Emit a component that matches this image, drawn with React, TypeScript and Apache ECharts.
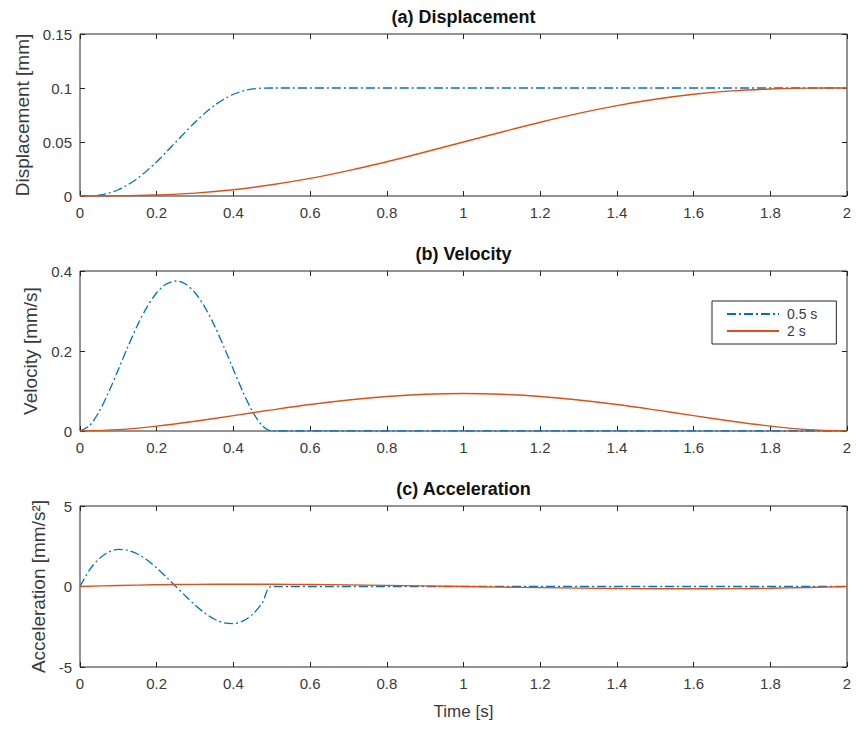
import React, { useEffect, useRef } from "react";
import * as echarts from "echarts";

// Time samples
const blueTime = [0, 0.025, 0.05, 0.075, 0.1, 0.125, 0.15, 0.175, 0.2, 0.225, 0.25, 0.275, 0.3, 0.325, 0.35, 0.375, 0.4, 0.425, 0.45, 0.475, 0.5, 2.0];
const redTime = [0, 0.1, 0.2, 0.3, 0.4, 0.5, 0.6, 0.7, 0.8, 0.9, 1.0, 1.1, 1.2, 1.3, 1.4, 1.5, 1.6, 1.7, 1.8, 1.9, 2.0];

// 0.5 s profile
const blueDisp = [0, 0.0001, 0.0009, 0.0027, 0.0058, 0.0104, 0.0163, 0.0235, 0.0317, 0.0407, 0.05, 0.0593, 0.0683, 0.0765, 0.0837, 0.0896, 0.0942, 0.0973, 0.0991, 0.0999, 0.1, 0.1];
const blueVel = [0, 0.0135, 0.0486, 0.0975, 0.1536, 0.2109, 0.2646, 0.3105, 0.3456, 0.3675, 0.375, 0.3675, 0.3456, 0.3105, 0.2646, 0.2109, 0.1536, 0.0975, 0.0486, 0.0135, 0, 0];
const blueAcc = [0, 1.03, 1.73, 2.14, 2.3, 2.25, 2.02, 1.64, 1.15, 0.59, 0, -0.59, -1.15, -1.64, -2.02, -2.25, -2.3, -2.14, -1.73, -1.03, 0, 0];

// 2 s profile
const redDisp = [0, 0.0001, 0.0009, 0.0027, 0.0058, 0.0104, 0.0163, 0.0235, 0.0317, 0.0407, 0.05, 0.0593, 0.0683, 0.0765, 0.0837, 0.0896, 0.0942, 0.0973, 0.0991, 0.0999, 0.1];
const redVel = [0, 0.0034, 0.0122, 0.0244, 0.0384, 0.0527, 0.0662, 0.0776, 0.0864, 0.0919, 0.0938, 0.0919, 0.0864, 0.0776, 0.0662, 0.0527, 0.0384, 0.0244, 0.0122, 0.0034, 0];
const redAcc = [0, 0.064, 0.108, 0.134, 0.144, 0.141, 0.126, 0.102, 0.072, 0.037, 0, -0.037, -0.072, -0.102, -0.126, -0.141, -0.144, -0.134, -0.108, -0.064, 0];

const titles = ["(a) Displacement", "(b) Velocity", "(c) Acceleration"];
const yNames = ["Displacement [mm]", "Velocity [mm/s]", "Acceleration [mm/s\u00B2]"];
const yRanges = [
  { min: 0, max: 0.15, interval: 0.05 },
  { min: 0, max: 0.4, interval: 0.2 },
  { min: -5, max: 5, interval: 5 },
];
const seriesNames = ["0.5 s", "2 s"];

const FONT = '"Liberation Sans", Arial, Helvetica, sans-serif';
const BLUE = "#0072BD";
const RED = "#D95319";
const AXC = "#262626";
const TXT = "#3a3a3a";

const pair = (t: number[], v: number[]) => t.map((x, i) => [x, v[i]]);

export default function App() {
  const ref = useRef<HTMLDivElement>(null);
  useEffect(() => {
    document.body.style.margin = "0";
    const chart = echarts.init(ref.current!, undefined, { renderer: "svg" });
    const grids = [
      { left: 80, right: 10, top: 34, height: 162 },
      { left: 80, right: 10, top: 271, height: 160 },
      { left: 80, right: 10, top: 506, height: 161 },
    ];
    const titleY = [17, 254, 489];
    const nameGaps = [47, 38, 30];
    const xAxes: any[] = [];
    const yAxes: any[] = [];
    const series: any[] = [];
    const blueSets = [blueDisp, blueVel, blueAcc];
    const redSets = [redDisp, redVel, redAcc];
    const tick = { show: true, inside: true, length: 5, lineStyle: { color: AXC } };
    const noLine = { show: false, onZero: false };
    for (let i = 0; i < 3; i++) {
      xAxes.push({
        type: "value",
        gridIndex: i,
        position: "bottom",
        min: 0,
        max: 2,
        interval: 0.2,
        axisLine: noLine,
        axisTick: tick,
        splitLine: { show: false },
        axisLabel: { color: TXT, fontSize: 15, fontFamily: FONT, margin: 9 },
        name: i === 2 ? "Time [s]" : "",
        nameLocation: "middle",
        nameGap: 36,
        nameTextStyle: { color: TXT, fontSize: 17, fontFamily: FONT },
      });
      xAxes.push({
        type: "value",
        gridIndex: i,
        position: "top",
        min: 0,
        max: 2,
        interval: 0.2,
        axisLine: noLine,
        axisTick: tick,
        splitLine: { show: false },
        axisLabel: { show: false },
      });
      yAxes.push({
        type: "value",
        gridIndex: i,
        position: "left",
        ...yRanges[i],
        axisLine: noLine,
        axisTick: tick,
        splitLine: { show: false },
        axisLabel: { color: TXT, fontSize: 15, fontFamily: FONT, margin: 8 },
        name: yNames[i],
        nameLocation: "middle",
        nameGap: nameGaps[i],
        nameTextStyle: { color: TXT, fontSize: 19, fontFamily: FONT },
      });
      yAxes.push({
        type: "value",
        gridIndex: i,
        position: "right",
        ...yRanges[i],
        axisLine: noLine,
        axisTick: tick,
        splitLine: { show: false },
        axisLabel: { show: false },
      });
      series.push({
        type: "line",
        name: seriesNames[0],
        xAxisIndex: 2 * i,
        yAxisIndex: 2 * i,
        data: pair(blueTime, blueSets[i]),
        smooth: 0.3,
        symbol: "none",
        showSymbol: false,
        lineStyle: { color: BLUE, width: 1.3, type: [9, 3, 2, 3] },
        itemStyle: { color: BLUE },
      });
      series.push({
        type: "line",
        name: seriesNames[1],
        xAxisIndex: 2 * i,
        yAxisIndex: 2 * i,
        data: pair(redTime, redSets[i]),
        smooth: 0.3,
        symbol: "none",
        showSymbol: false,
        lineStyle: { color: RED, width: 1.4, type: "solid" },
        itemStyle: { color: RED },
      });
    }
    chart.setOption({
      animation: false,
      backgroundColor: "#fff",
      grid: grids.map((g) => ({ ...g, show: true, borderColor: AXC, borderWidth: 1, backgroundColor: "#fff" })),
      xAxis: xAxes,
      yAxis: yAxes,
      series,
      legend: {
        data: seriesNames,
        orient: "vertical",
        left: 712,
        top: 301,
        itemWidth: 52,
        itemHeight: 14,
        itemGap: 3,
        padding: [6, 19, 6, 14],
        backgroundColor: "#fff",
        borderColor: AXC,
        borderWidth: 1,
        borderRadius: 0,
        selectedMode: false,
        itemStyle: { opacity: 0 },
        textStyle: { color: TXT, fontSize: 14, fontFamily: FONT, padding: [0, 0, 0, 3] },
      },
      graphic: titles.map((t, i) => ({
        type: "text",
        x: 463.5,
        y: titleY[i],
        style: {
          text: t,
          fill: "#111",
          fontSize: 18,
          fontWeight: "bold",
          fontFamily: FONT,
          align: "center",
          verticalAlign: "middle",
        },
      })),
    });
    return () => chart.dispose();
  }, []);
  return <div ref={ref} style={{ position: "absolute", left: 0, top: 0, width: 857, height: 729 }} />;
}
